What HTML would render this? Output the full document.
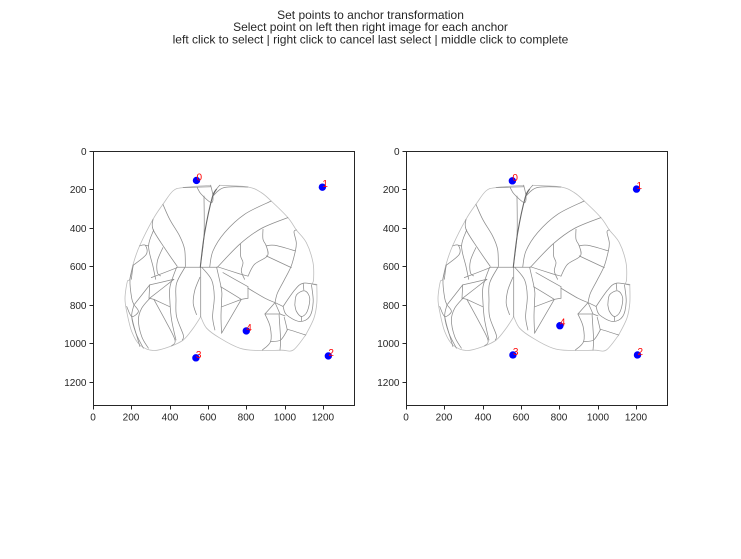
<!DOCTYPE html>
<html>
<head>
<meta charset="utf-8">
<title>Set points to anchor transformation</title>
<style>
html,body{margin:0;padding:0;background:#fff;width:741px;height:559px;overflow:hidden}
svg{display:block}
text{font-family:"Liberation Sans",Arial,sans-serif}
</style>
</head>
<body>
<svg id="fig" xmlns="http://www.w3.org/2000/svg" width="741" height="559" viewBox="0 0 741 559">
<g font-size="12" fill="#262626" text-anchor="middle">
<text x="370.5" y="19">Set points to anchor transformation</text>
<text x="370.5" y="31">Select point on left then right image for each anchor</text>
<text x="370.5" y="43.5">left click to select | right click to cancel last select | middle click to complete</text>
</g>
</svg>
<script>
var xTicks = [0,200,400,600,800,1000,1200];
var yTicks = [0,200,400,600,800,1000,1200];
var xMax = 1362;
var yMax = 1320;
var anchorLabels = ['0','1','2','3','4'];
var leftX = [540,1197,1228,537,800];
var leftY = [153,188,1065,1075,935];
var rightX = [555,1203,1208,558,803];
var rightY = [155,198,1060,1060,908];
var outlineOuter = [
[[614,178],[470,190],[417,208],[365,277],[313,355],[243,493],[209,589],[191,667],[179,679],[167,765],[176,834],[202,938],[245,1008],[315,1037],[402,1016],[471,982],[523,921],[562,861]],
[[562,861],[593,921],[663,973],[767,1025],[861,1037],[983,1035],[1045,1034],[1110,956]],
[[1110,956],[1153,869],[1168,791],[1168,693]],
[[1168,693],[1144,690]],
[[661,178],[809,187],[878,216],[930,260],[1017,346],[1061,410],[1113,476],[1148,580],[1151,667],[1144,690]]
];
var outlineInner = [
[[544,190],[565,225],[617,268],[626,234],[614,178]],
[[470,190],[614,186]],
[[626,234],[683,190],[809,187]],
[[661,178],[644,199],[622,242]],
[[579,234],[579,441],[560,600]],
[[365,277],[400,355],[452,441],[478,511],[482,600]],
[[313,355],[313,407],[372,502],[440,600]],
[[317,410],[290,493],[313,600],[327,667]],
[[365,502],[336,571],[336,632],[353,649]],
[[243,493],[273,490],[278,537],[209,594]],
[[273,490],[290,493]],
[[209,594],[200,667]],
[[445,604],[649,604]],
[[445,604],[304,658]],
[[930,260],[791,329],[687,424],[626,519],[609,604]],
[[1017,346],[878,403],[765,485],[649,604]],
[[887,407],[887,459],[904,493],[910,545],[843,589],[809,650]],
[[904,493],[948,490],[1056,519]],
[[1061,410],[1049,421],[1061,476],[1056,519],[1035,597],[1000,667],[962,740],[950,788]],
[[904,545],[1035,606]],
[[770,485],[770,545],[783,580],[774,623],[791,667]],
[[650,602],[767,639],[809,650]],
[[296,696],[422,667]],
[[296,765],[422,667]],
[[296,696],[292,765]],
[[292,765],[318,771]],
[[318,771],[400,809]],
[[318,771],[376,878],[428,982],[410,1013]],
[[296,696],[214,800]],
[[297,765],[254,817],[237,878],[254,964],[289,1025]],
[[214,800],[237,834],[202,860],[176,808]],
[[214,800],[202,860],[224,947],[263,1025]],
[[202,860],[214,912],[245,1016]],
[[211,592],[193,670],[202,765],[214,800]],
[[436,604],[402,705],[402,791],[410,878],[433,982]],
[[480,604],[436,687],[433,774],[436,861],[471,956],[466,982]],
[[558,656],[532,722],[523,791],[540,850]],
[[562,604],[562,861]],
[[567,604],[619,670],[633,757],[624,861],[636,930]],
[[645,604],[671,722],[671,774],[668,861],[671,947]],
[[666,705],[774,771]],
[[673,809],[774,771]],
[[678,632],[809,705]],
[[809,705],[809,765]],
[[809,765],[774,771]],
[[774,771],[671,947]],
[[809,713],[897,765],[950,788]],
[[897,847],[950,788]],
[[897,847],[924,912],[927,990],[884,1034]],
[[897,847],[976,847]],
[[950,788],[976,847]],
[[976,847],[1002,857]],
[[971,852],[979,978],[976,1034]],
[[998,864],[1014,930]],
[[1014,930],[979,982],[927,990]],
[[1014,926],[1110,956]],
[[950,788],[992,808]],
[[992,808],[1053,722],[1097,687],[1166,696]],
[[992,808],[1010,852],[1079,886],[1131,860],[1149,783],[1140,696]],
[[1053,800],[1062,748],[1105,727],[1131,765],[1118,834],[1088,860],[1062,834],[1053,800]],
[[1097,687],[1100,722]],
[[1088,860],[1088,883]]
];
var NS = 'http://www.w3.org/2000/svg';
var fig = document.getElementById('fig');
function mk(tag, attrs, parent){
  var e = document.createElementNS(NS, tag);
  for (var k in attrs) e.setAttribute(k, attrs[k]);
  parent.appendChild(e);
  return e;
}
function drawAxes(side, left, xs, ys){
  var right = left + 261, top = 151, bottom = 405;
  function sx(v){ return left + v / xMax * (right - left); }
  function sy(v){ return top + v / yMax * (bottom - top); }
  function smooth(pts){
    var P = pts.map(function(p){ return [sx(p[0]), sy(p[1])]; });
    var d = 'M' + P[0][0].toFixed(1) + ' ' + P[0][1].toFixed(1);
    for (var i = 0; i < P.length - 1; i++){
      var a = P[Math.max(i-1,0)], b = P[i], c = P[i+1], e = P[Math.min(i+2,P.length-1)];
      var c1x = b[0] + (c[0]-a[0])/6, c1y = b[1] + (c[1]-a[1])/6;
      var c2x = c[0] - (e[0]-b[0])/6, c2y = c[1] - (e[1]-b[1])/6;
      d += 'C' + c1x.toFixed(1) + ' ' + c1y.toFixed(1) + ' ' + c2x.toFixed(1) + ' ' + c2y.toFixed(1) + ' ' + c[0].toFixed(1) + ' ' + c[1].toFixed(1);
    }
    return d;
  }
  var g = mk('g', {}, fig);
  
  
  var atlas = mk('g', {fill:'none','stroke-linejoin':'round','stroke-linecap':'round'}, g);
  
  
  outlineOuter.forEach(function(p){
    var o = mk('path', {d:smooth(p),stroke:'#bdbdbd','stroke-width':'0.8'}, atlas);
    
    
  });
  outlineInner.forEach(function(p){
    var o = mk('path', {d:smooth(p),stroke:'#8c8c8c','stroke-width':'0.75'}, atlas);
    
    
  });
  var mid = mk('path', {d:smooth([[560,604],[583,424],[622,242],[644,199]]),fill:'none',stroke:'#666','stroke-width':'1.1'}, atlas);
  
  

  var frame = mk('rect', {x:left+0.5,y:top+0.5,width:right-left,height:bottom-top,fill:'none',stroke:'#262626','stroke-width':'1'}, g);
  
  

  xTicks.forEach(function(v){
    var x = Math.round(sx(v)) + 0.5;
    var t = mk('line', {x1:x,x2:x,y1:bottom+0.5,y2:bottom+4.5,stroke:'#262626','stroke-width':'1'}, g);
    
    
    var l = mk('text', {x:x-0.5,y:bottom+15.5,'font-size':'10',fill:'#262626','text-anchor':'middle'}, g);
    
    
    l.textContent = v;
  });
  yTicks.forEach(function(v){
    var y = Math.round(sy(v)) + 0.5;
    var t = mk('line', {x1:left-3.5,x2:left+0.5,y1:y,y2:y,stroke:'#262626','stroke-width':'1'}, g);
    
    
    var l = mk('text', {x:left-6.5,y:y+3.5,'font-size':'10',fill:'#262626','text-anchor':'end'}, g);
    
    
    l.textContent = v;
  });
  anchorLabels.forEach(function(lab, i){
    var c = mk('circle', {cx:sx(xs[i]),cy:sy(ys[i]),r:3.7,fill:'#0000ff'}, g);
    
    
    var t = mk('text', {x:sx(xs[i]),y:sy(ys[i]),'font-size':'10',fill:'#ff0000'}, g);
    
    
    t.textContent = lab;
  });
}
drawAxes('left', 93, leftX, leftY);
drawAxes('right', 406, rightX, rightY);
</script>
</body>
</html>
